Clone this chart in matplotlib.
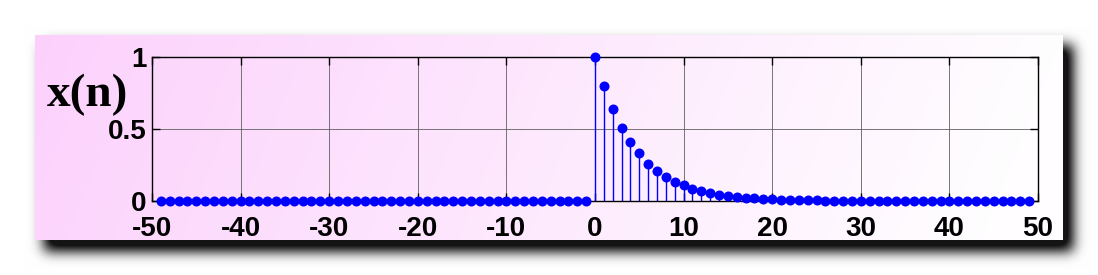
import numpy as np
import matplotlib
matplotlib.use("Agg")
import matplotlib.pyplot as plt

plt.rcParams["axes.unicode_minus"] = False

# signal samples x(n), n = -49 .. 49
n = list(range(-49, 50))
x_neg = [0.0] * 49
x_pos = [1.0, 0.8, 0.64, 0.51, 0.41, 0.33, 0.26, 0.21, 0.17, 0.13,
         0.11, 0.086, 0.069, 0.055, 0.044, 0.035, 0.028, 0.023, 0.018, 0.014,
         0.012, 0.009, 0.007, 0.006, 0.005, 0.004, 0.003, 0.002, 0.002, 0.002,
         0.001, 0.001, 0.001, 0.0, 0.0, 0.0, 0.0, 0.0, 0.0, 0.0,
         0.0, 0.0, 0.0, 0.0, 0.0, 0.0, 0.0, 0.0, 0.0, 0.0]
x = x_neg + x_pos
xticks = [-50, -40, -30, -20, -10, 0, 10, 20, 30, 40, 50]
yticks = [0, 0.5, 1]
ytick_labels = ["0", "0.5", "1"]

W, H = 1098, 275


def gauss_blur(img, sigma):
    r = int(3 * sigma)
    k = np.exp(-0.5 * (np.arange(-r, r + 1) / sigma) ** 2)
    k /= k.sum()
    img = np.apply_along_axis(lambda v: np.convolve(v, k, mode="same"), 0, img)
    img = np.apply_along_axis(lambda v: np.convolve(v, k, mode="same"), 1, img)
    return img


def make_background():
    # panel with pink -> white gradient and a soft drop shadow
    px0, px1, py0, py1 = 35, 1063, 35, 240
    yy, xx = np.mgrid[0:H, 0:W]
    panel = (xx >= px0) & (xx < px1) & (yy >= py0) & (yy < py1)
    shadow = np.zeros((H, W))
    shadow[py0 + 10:py1 + 11, px0 + 9:px1 + 10] = 1.0
    shadow = np.clip(gauss_blur(shadow, 6.5) * 1.15, 0, 0.92)
    img = np.ones((H, W, 3))
    img *= (1 - shadow)[..., None]
    t = np.clip(((xx - px0) + 0.4 * (yy - py0)) / (px1 - px0), 0, 1)
    pink = np.array([0.988, 0.82, 0.988])
    white = np.array([1.0, 0.995, 1.0])
    grad = pink[None, None, :] * (1 - t[..., None]) + white[None, None, :] * t[..., None]
    img[panel] = grad[panel]
    return img


fig = plt.figure(figsize=(W / 100, H / 100), dpi=100)
bg = fig.add_axes([0, 0, 1, 1])
bg.imshow(make_background(), aspect="auto", interpolation="bilinear")
bg.axis("off")

ax = fig.add_axes([152 / W, (H - 201) / H, (1038 - 152) / W, (201 - 57) / H])
ax.patch.set_alpha(0)

ml, sl, bl = ax.stem(n, x, linefmt="b-", markerfmt="bo", basefmt=" ")
plt.setp(sl, linewidth=1.0, color="#0000ff")
plt.setp(ml, markersize=7.2, color="#0000ff", markeredgewidth=0, clip_on=False, zorder=4)

ax.set_xlim(-50, 50)
ax.set_ylim(0, 1)
ax.set_xticks(xticks)
ax.set_yticks(yticks)
ax.set_yticklabels(ytick_labels)
ax.grid(True, color="#606060", linewidth=0.6, linestyle="-")
ax.set_axisbelow(True)
for s in ax.spines.values():
    s.set_linewidth(1.0)
ax.tick_params(direction="in", length=6, top=True, right=True, width=1.0)
ax.tick_params(axis="x", pad=11)
ax.tick_params(axis="y", pad=4)
for lab in ax.get_xticklabels() + ax.get_yticklabels():
    lab.set_fontfamily("Liberation Sans")
    lab.set_fontweight("bold")
    lab.set_fontsize(20)

fig.text(88 / W, 1 - 95 / H, "x(n)", family="Liberation Serif", fontweight="bold",
         fontsize=34, ha="center", va="center")

fig.savefig("out.png", dpi=100)
